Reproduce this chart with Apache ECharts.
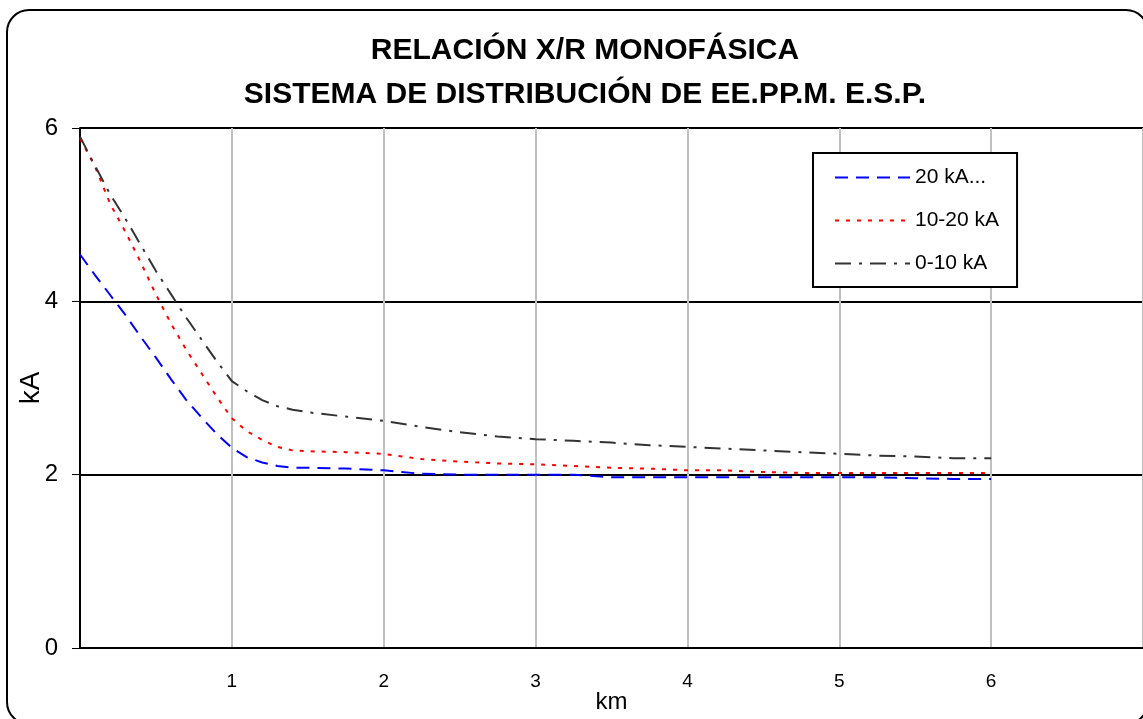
<!DOCTYPE html>
<html>
<head>
<meta charset="utf-8">
<script src="https://cdn.jsdelivr.net/npm/echarts@6/dist/echarts.min.js"></script>
<style>
html, body { margin: 0; padding: 0; background: #fff; }
#chart { width: 1143px; height: 719px; }
</style>
</head>
<body>
<div id="chart"></div>
<script>
var chart = echarts.init(document.getElementById('chart'));

// distancia (km)
var kmSteps = [0, 0.1, 0.2, 0.3, 0.4, 0.5, 0.6, 0.7, 0.8, 0.9, 1.0, 1.1, 1.2, 1.3, 1.4, 1.5, 1.75,
	2.0, 2.25, 2.5, 2.75, 3.0, 3.25, 3.5, 3.75, 4.0, 4.25, 4.5, 4.75, 5.0, 5.25, 5.5, 5.75, 6.0];

var seriesNames = ['20 kA...', '10-20 kA', '0-10 kA'];

var mas20 = [4.54, 4.30, 4.07, 3.84, 3.59, 3.35, 3.10, 2.86, 2.66, 2.47, 2.31, 2.20, 2.14, 2.10, 2.08, 2.08, 2.07,
	2.05, 2.01, 2.00, 2.00, 2.00, 2.00, 1.97, 1.97, 1.97, 1.97, 1.97, 1.97, 1.97, 1.97, 1.96, 1.95, 1.95];
var de10a20 = [5.88, 5.55, 5.12, 4.80, 4.45, 4.08, 3.74, 3.44, 3.17, 2.90, 2.65, 2.50, 2.40, 2.32, 2.28, 2.27, 2.26,
	2.24, 2.18, 2.15, 2.13, 2.12, 2.10, 2.08, 2.07, 2.05, 2.05, 2.03, 2.02, 2.02, 2.02, 2.02, 2.02, 2.02];
var de0a10 = [5.90, 5.56, 5.23, 4.95, 4.65, 4.35, 4.08, 3.81, 3.56, 3.31, 3.08, 2.96, 2.86, 2.79, 2.75, 2.72, 2.67,
	2.62, 2.55, 2.49, 2.44, 2.41, 2.39, 2.37, 2.34, 2.32, 2.30, 2.28, 2.26, 2.24, 2.22, 2.21, 2.19, 2.19];

var pairs = function(vals) {
	var res = [];
	for (var i = 0; i < kmSteps.length; i++) {
		res.push([kmSteps[i], vals[i]]);
	}
	return res;
};

var font = 'Liberation Sans, Arial, sans-serif';

var option = {
	backgroundColor: '#fff',
	animation: false,
	graphic: [{
		type: 'rect',
		shape: { x: 7, y: 10, width: 1141, height: 714, r: 22 },
		style: { fill: 'none', stroke: '#000', lineWidth: 2 },
		z: 100
	}],
	title: {
		text: 'RELACIÓN X/R MONOFÁSICA\nSISTEMA DE DISTRIBUCIÓN DE EE.PP.M. E.S.P.',
		left: 580,
		textAlign: 'center',
		top: 24,
		textStyle: {
			fontFamily: font,
			fontWeight: 'bold',
			fontSize: 30,
			lineHeight: 44,
			color: '#000'
		}
	},
	legend: {
		orient: 'vertical',
		left: 813,
		top: 153,
		padding: [14, 18, 13, 21],
		itemWidth: 75,
		itemHeight: 14,
		itemGap: 22,
		borderColor: '#000',
		borderWidth: 2,
		backgroundColor: '#fff',
		data: seriesNames,
		itemStyle: { opacity: 0 },
		textStyle: {
			fontFamily: font,
			fontSize: 21,
			color: '#000'
		}
	},
	grid: {
		left: 80,
		right: 0,
		top: 128,
		bottom: 71,
		outerBoundsMode: 'none',
		containLabel: false
	},
	xAxis: {
		type: 'value',
		min: 0,
		max: 7,
		interval: 1,
		name: 'km',
		nameLocation: 'middle',
		nameGap: 42,
		nameMoveOverlap: false,
		nameTextStyle: { fontFamily: font, fontSize: 24, color: '#000' },
		axisLine: { show: true, lineStyle: { color: '#000', width: 2 } },
		axisTick: { show: false },
		axisLabel: {
			margin: 24,
			fontFamily: font,
			fontSize: 19,
			color: '#000',
			formatter: function(v) {
				return (v === 0 || v === 7) ? '' : v;
			}
		},
		splitLine: { show: true, lineStyle: { color: '#c0c0c0', width: 2 } }
	},
	yAxis: {
		type: 'value',
		min: 0,
		max: 6,
		interval: 2,
		name: 'kA',
		nameLocation: 'middle',
		nameGap: 35,
		nameMoveOverlap: false,
		nameTextStyle: { fontFamily: font, fontSize: 28, color: '#000' },
		axisLine: { show: true, lineStyle: { color: '#000', width: 2 } },
		axisTick: { show: true, inside: false, length: 8, lineStyle: { color: '#000', width: 1 } },
		axisLabel: {
			margin: 22,
			fontFamily: font,
			fontSize: 24,
			color: '#000'
		},
		splitLine: { show: true, lineStyle: { color: '#000', width: 2 } }
	},
	series: [{
		name: seriesNames[0],
		type: 'line',
		data: pairs(mas20),
		symbol: 'none',
		lineStyle: { color: '#0000ff', width: 2, type: [13, 8] },
		itemStyle: { color: '#0000ff' },
		z: 3
	}, {
		name: seriesNames[1],
		type: 'line',
		data: pairs(de10a20),
		symbol: 'none',
		lineStyle: { color: '#ff0000', width: 2, type: [4, 7] },
		itemStyle: { color: '#ff0000' },
		z: 3
	}, {
		name: seriesNames[2],
		type: 'line',
		data: pairs(de0a10),
		symbol: 'none',
		lineStyle: { color: '#333333', width: 2, type: [16, 8, 3, 8] },
		itemStyle: { color: '#333333' },
		z: 3
	}]
};
chart.setOption(option);
window.onresize = chart.resize;
</script>
</body>
</html>
